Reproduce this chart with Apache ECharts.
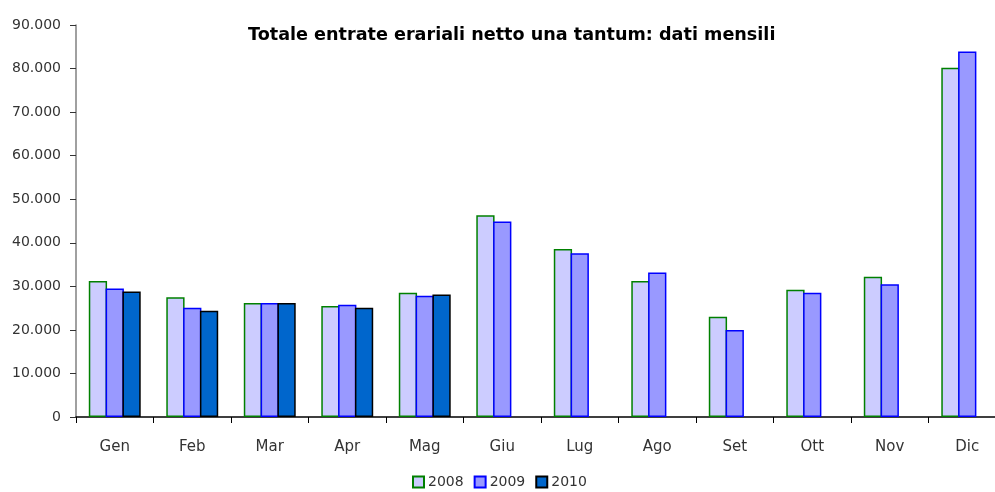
<!DOCTYPE html>
<html>
<head>
<meta charset="utf-8">
<script src="https://cdn.jsdelivr.net/npm/echarts@6/dist/echarts.min.js"></script>
<style>
html,body{margin:0;padding:0;background:#fff;overflow:hidden;width:995px;height:492px;}
#chart{width:1006px;height:492px;}
</style>
</head>
<body>
<div id="chart"></div>
<script>
const months = ['Gen','Feb','Mar','Apr','Mag','Giu','Lug','Ago','Set','Ott','Nov','Dic'];
const years = ['2008','2009','2010'];
const values2008 = [31200, 27500, 26200, 25500, 28500, 46300, 38600, 31200, 23000, 29200, 32200, 80200];
const values2009 = [29500, 25100, 26200, 25800, 27850, 44900, 37600, 33200, 20000, 28500, 30500, 83900];
const values2010 = [28800, 24400, 26200, 25100, 28100, null, null, null, null, null, null, null];
const yTicks = [0, 10000, 20000, 30000, 40000, 50000, 60000, 70000, 80000, 90000];

const fmt = v => String(v).replace(/\B(?=(\d{3})+(?!\d))/g, '.');
const font = 'DejaVu Sans';

const chart = echarts.init(document.getElementById('chart'));
const styles = [
  {fill:'#CCCCFF', border:'#008000'},
  {fill:'#9999FF', border:'#0000FF'},
  {fill:'#0066CC', border:'#000000'}
];
const data = [values2008, values2009, values2010];

chart.setOption({
  backgroundColor:'#ffffff',
  animation:false,
  title:{
    text:'Totale entrate erariali netto una tantum: dati mensili',
    left:243, top:21,
    textStyle:{fontFamily:'DejaVu Sans', fontWeight:'bold', fontSize:17.6, color:'#000'}
  },
  legend:{
    bottom:-2, left:407,
    itemWidth:11, itemHeight:11, itemGap:10,
    icon:'rect',
    textStyle:{fontFamily:font, fontSize:14, color:'#333', padding:[0,0,0,-1]},
    data:years
  },
  grid:{left:76, top:25, bottom:75, right:0, containLabel:false},
  xAxis:{
    type:'category',
    data:months,
    axisLine:{lineStyle:{color:'#000', width:1.5}},
    axisTick:{show:true, length:6, lineStyle:{color:'#000', width:1}},
    axisLabel:{fontFamily:font, fontSize:15, color:'#333', margin:23}
  },
  yAxis:{
    type:'value',
    min:yTicks[0], max:yTicks[yTicks.length-1], interval:10000,
    axisLine:{show:true, lineStyle:{color:'#808080', width:1.5}},
    axisTick:{show:true, length:6, lineStyle:{color:'#333'}},
    splitLine:{show:false},
    axisLabel:{fontFamily:font, fontSize:14, color:'#333', margin:15, formatter:fmt}
  },
  series: years.map((y,i)=>({
    name:y, type:'bar', data:data[i],
    barGap:'-8%', barCategoryGap:'33%',
    itemStyle:{color:styles[i].fill, borderColor:styles[i].border, borderWidth:1.5}
  }))
});
</script>
</body>
</html>
